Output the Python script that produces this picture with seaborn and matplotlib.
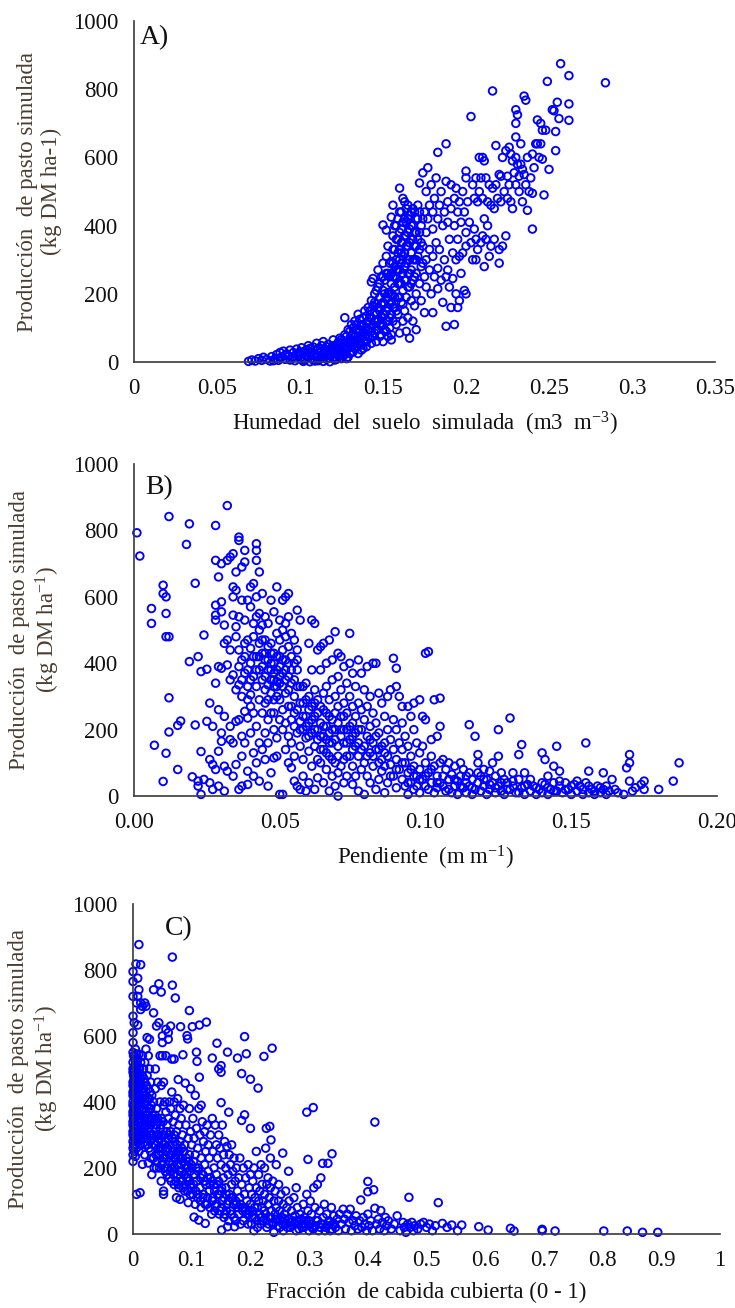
import numpy as np
import pandas as pd
import matplotlib
matplotlib.use("Agg")
import matplotlib.pyplot as plt
import seaborn as sns

# ---------------------------------------------------------------------------
# Panel A: simulated soil moisture (m3 m-3) vs simulated pasture production
# ---------------------------------------------------------------------------
moisture_pts = [
    (0.069, 2), (0.071, 6), (0.073, 3), (0.075, 10), (0.077, 5), (0.078, 14), (0.080, 8), (0.082, 3),
    (0.083, 16), (0.085, 10), (0.086, 22), (0.087, 5), (0.088, 28), (0.089, 15), (0.090, 32), (0.091, 8),
    (0.092, 24), (0.093, 18), (0.094, 35), (0.095, 12), (0.096, 28), (0.097, 4), (0.098, 38), (0.099, 20),
    (0.100, 30), (0.100, 12), (0.101, 42), (0.102, 25), (0.103, 6), (0.104, 36), (0.105, 48), (0.105, 18),
    (0.106, 30), (0.107, 10), (0.108, 44), (0.109, 22), (0.110, 55), (0.110, 35), (0.111, 4), (0.112, 28),
    (0.113, 48), (0.113, 15), (0.114, 60), (0.115, 38), (0.116, 8), (0.116, 26), (0.117, 52), (0.118, 18),
    (0.119, 42), (0.120, 65), (0.120, 30), (0.121, 6), (0.122, 50), (0.122, 22), (0.123, 40), (0.124, 70),
    (0.124, 12), (0.125, 55), (0.125, 32), (0.102, 2), (0.106, 1), (0.109, 3), (0.114, 2), (0.118, 1),
    (0.084, 4), (0.088, 12), (0.091, 20), (0.094, 6), (0.096, 16), (0.099, 26), (0.101, 8), (0.103, 32),
    (0.104, 18), (0.106, 40), (0.107, 26), (0.108, 6), (0.110, 18), (0.111, 40), (0.112, 10), (0.113, 32),
    (0.115, 22), (0.116, 45), (0.117, 12), (0.118, 34), (0.119, 26), (0.120, 48), (0.121, 16), (0.121, 38),
    (0.122, 8), (0.123, 28), (0.123, 58), (0.124, 20), (0.124, 44), (0.125, 10), (0.125, 66),
    (0.126, 45), (0.126, 20), (0.127, 80), (0.127, 130), (0.128, 60), (0.128, 35), (0.129, 95), (0.129, 15),
    (0.130, 70), (0.130, 50), (0.131, 110), (0.131, 28), (0.132, 85), (0.132, 55), (0.133, 40), (0.133, 120),
    (0.134, 65), (0.134, 95), (0.135, 25), (0.135, 140), (0.136, 75), (0.136, 50), (0.137, 105), (0.137, 35),
    (0.138, 130), (0.138, 88), (0.139, 60), (0.139, 150), (0.140, 115), (0.140, 45), (0.140, 80),
    (0.126, 30), (0.126, 62), (0.127, 48), (0.127, 22), (0.128, 75), (0.128, 10), (0.129, 40), (0.129, 58),
    (0.130, 90), (0.130, 25), (0.131, 64), (0.131, 45), (0.132, 100), (0.132, 30), (0.133, 75), (0.133, 55),
    (0.134, 110), (0.134, 45), (0.135, 85), (0.135, 60), (0.136, 125), (0.136, 95), (0.137, 70), (0.137, 50),
    (0.138, 110), (0.138, 40), (0.139, 95), (0.139, 75), (0.140, 135), (0.140, 60), (0.140, 100),
    (0.141, 95), (0.141, 160), (0.142, 70), (0.142, 130), (0.143, 235), (0.143, 180), (0.143, 55), (0.144, 110),
    (0.144, 245), (0.145, 145), (0.145, 85), (0.145, 200), (0.146, 120), (0.146, 60), (0.146, 170), (0.147, 95),
    (0.147, 220), (0.147, 270), (0.148, 150), (0.148, 75), (0.148, 190), (0.149, 130), (0.149, 250), (0.149, 105),
    (0.150, 175), (0.150, 60), (0.150, 210), (0.150, 290), (0.151, 140), (0.151, 95), (0.151, 240), (0.152, 185),
    (0.152, 120), (0.152, 310), (0.153, 160), (0.153, 75), (0.153, 260), (0.153, 340), (0.154, 205), (0.154, 130),
    (0.154, 100), (0.155, 230), (0.155, 175), (0.155, 295), (0.155, 80), (0.155, 65), (0.150, 402), (0.152, 387),
    (0.156, 460), (0.155, 425),
    (0.141, 120), (0.141, 75), (0.142, 150), (0.142, 100), (0.143, 130), (0.143, 90), (0.144, 165), (0.144, 75),
    (0.145, 120), (0.145, 175), (0.146, 140), (0.146, 95), (0.146, 210), (0.147, 120), (0.147, 160), (0.148, 110),
    (0.148, 230), (0.149, 170), (0.149, 80), (0.150, 140), (0.150, 250), (0.150, 110), (0.151, 200), (0.151, 170),
    (0.152, 150), (0.152, 260), (0.152, 90), (0.153, 200), (0.153, 120), (0.154, 250), (0.154, 170), (0.154, 290),
    (0.155, 140), (0.155, 260), (0.155, 200),
    (0.156, 120), (0.156, 250), (0.156, 330), (0.156, 195), (0.157, 160), (0.157, 280), (0.157, 400), (0.157, 220),
    (0.158, 110), (0.158, 300), (0.158, 360), (0.158, 245), (0.159, 190), (0.159, 420), (0.159, 270), (0.159, 140),
    (0.160, 330), (0.160, 230), (0.160, 510), (0.160, 380), (0.160, 85), (0.161, 290), (0.161, 175), (0.161, 440),
    (0.161, 350), (0.162, 260), (0.162, 120), (0.162, 480), (0.162, 310), (0.162, 210), (0.163, 370), (0.163, 150),
    (0.163, 470), (0.163, 280), (0.164, 340), (0.164, 240), (0.164, 410), (0.164, 90), (0.164, 190), (0.165, 300),
    (0.165, 460), (0.165, 380), (0.165, 260), (0.165, 130), (0.166, 350), (0.166, 220), (0.166, 430), (0.166, 70),
    (0.167, 320), (0.167, 400), (0.167, 180), (0.167, 270), (0.168, 450), (0.168, 360), (0.168, 240), (0.168, 120),
    (0.169, 380), (0.169, 300), (0.169, 165), (0.169, 440), (0.170, 340), (0.170, 260), (0.170, 420), (0.170, 200),
    (0.170, 95),
    (0.156, 290), (0.156, 160), (0.156, 370), (0.157, 250), (0.157, 190), (0.157, 330), (0.158, 270), (0.158, 150),
    (0.158, 400), (0.159, 320), (0.159, 230), (0.159, 360), (0.160, 270), (0.160, 190), (0.160, 440), (0.160, 300),
    (0.161, 390), (0.161, 230), (0.161, 320), (0.162, 350), (0.162, 410), (0.162, 170), (0.163, 320), (0.163, 240),
    (0.163, 420), (0.164, 290), (0.164, 370), (0.164, 450), (0.165, 340), (0.165, 420), (0.165, 220), (0.166, 390),
    (0.166, 300), (0.166, 260), (0.167, 360), (0.167, 440), (0.167, 230), (0.168, 400), (0.168, 300), (0.169, 340),
    (0.169, 250), (0.170, 380), (0.170, 300), (0.171, 420), (0.171, 360), (0.172, 330), (0.172, 440), (0.173, 350),
    (0.174, 420), (0.174, 290),
    (0.171, 460), (0.171, 310), (0.172, 230), (0.172, 380), (0.172, 525), (0.173, 280), (0.173, 400), (0.173, 180),
    (0.174, 555), (0.174, 340), (0.175, 440), (0.175, 250), (0.175, 145), (0.176, 380), (0.176, 300), (0.176, 500),
    (0.176, 220), (0.177, 570), (0.177, 420), (0.178, 330), (0.178, 270), (0.178, 460), (0.179, 520), (0.179, 200),
    (0.180, 390), (0.180, 310), (0.180, 440), (0.180, 145), (0.181, 250), (0.181, 480), (0.182, 350), (0.182, 540),
    (0.183, 420), (0.183, 275), (0.183, 615), (0.183, 215), (0.184, 460), (0.184, 330), (0.185, 500), (0.185, 240),
    (0.186, 400), (0.186, 175), (0.187, 440), (0.187, 300), (0.188, 640), (0.188, 530), (0.188, 105), (0.188, 250),
    (0.189, 470), (0.189, 410), (0.189, 270), (0.190, 360), (0.190, 220), (0.191, 520), (0.191, 450), (0.191, 160),
    (0.192, 320), (0.192, 245), (0.193, 400), (0.193, 480), (0.193, 110), (0.194, 300), (0.194, 510), (0.194, 200),
    (0.195, 440), (0.195, 360), (0.195, 160), (0.196, 310), (0.196, 180), (0.196, 470), (0.197, 410), (0.197, 260),
    (0.198, 500), (0.198, 320), (0.199, 440), (0.199, 210), (0.200, 560), (0.200, 540), (0.200, 380), (0.200, 200),
    (0.200, 340),
    (0.201, 470), (0.202, 410), (0.203, 720), (0.203, 350), (0.204, 520), (0.204, 300), (0.205, 480), (0.205, 390),
    (0.206, 540), (0.206, 300), (0.206, 360), (0.207, 470), (0.207, 330), (0.208, 500), (0.208, 600), (0.209, 540),
    (0.209, 350), (0.210, 600), (0.210, 480), (0.210, 370), (0.211, 590), (0.211, 280), (0.211, 420), (0.212, 540),
    (0.212, 360), (0.213, 470), (0.213, 400), (0.214, 520), (0.214, 310), (0.215, 460), (0.215, 340), (0.216, 795),
    (0.216, 510), (0.217, 450), (0.217, 360), (0.218, 635), (0.218, 520), (0.219, 480), (0.220, 550), (0.220, 290),
    (0.220, 330), (0.221, 545), (0.221, 470), (0.222, 600), (0.222, 340), (0.223, 500), (0.224, 370), (0.224, 620),
    (0.225, 480), (0.225, 545), (0.226, 630), (0.226, 520), (0.227, 610), (0.227, 470), (0.228, 590), (0.228, 450),
    (0.229, 555), (0.230, 740), (0.230, 700), (0.230, 660), (0.230, 600), (0.230, 520),
    (0.231, 725), (0.231, 580), (0.232, 545), (0.232, 500), (0.233, 640), (0.233, 580), (0.234, 470), (0.234, 565),
    (0.235, 780), (0.235, 550), (0.236, 768), (0.236, 520), (0.237, 600), (0.237, 445), (0.238, 500), (0.239, 540),
    (0.240, 610), (0.240, 390), (0.240, 495), (0.241, 570), (0.242, 640), (0.243, 710), (0.243, 640), (0.244, 600),
    (0.245, 700), (0.245, 640), (0.246, 680), (0.246, 595), (0.247, 490), (0.248, 680), (0.249, 823), (0.250, 565),
    (0.252, 740), (0.253, 737), (0.254, 620), (0.254, 676), (0.255, 762), (0.256, 714), (0.257, 875), (0.262, 840),
    (0.262, 757), (0.262, 709), (0.284, 819),
]

# ---------------------------------------------------------------------------
# Panel B: slope (m m-1) vs simulated pasture production
# ---------------------------------------------------------------------------
slope_pts = [
    (0.001, 793), (0.002, 723), (0.006, 565), (0.006, 520), (0.007, 153), (0.010, 635), (0.010, 610), (0.010, 44),
    (0.011, 600), (0.011, 129), (0.011, 550), (0.011, 480), (0.012, 480), (0.012, 842), (0.012, 296), (0.012, 193),
    (0.015, 80), (0.015, 213), (0.016, 226), (0.018, 758), (0.019, 820), (0.019, 405), (0.020, 58), (0.021, 641),
    (0.021, 214), (0.022, 45), (0.022, 30), (0.022, 420), (0.023, 375), (0.023, 134), (0.023, 5), (0.024, 485),
    (0.024, 50), (0.025, 382), (0.025, 225), (0.026, 280), (0.026, 110), (0.026, 40), (0.027, 95), (0.027, 210),
    (0.027, 20), (0.028, 815), (0.028, 710), (0.028, 575), (0.028, 545), (0.028, 530), (0.028, 340), (0.028, 80),
    (0.029, 660), (0.029, 390), (0.029, 260), (0.029, 135), (0.029, 30), (0.030, 700), (0.030, 585), (0.030, 555),
    (0.030, 385), (0.030, 190), (0.030, 165),
    (0.031, 515), (0.031, 460), (0.031, 240), (0.031, 90), (0.031, 15), (0.032, 875), (0.032, 710), (0.032, 470),
    (0.032, 395), (0.032, 75), (0.033, 720), (0.033, 440), (0.033, 350), (0.033, 170), (0.033, 210), (0.034, 730),
    (0.034, 630), (0.034, 600), (0.034, 545), (0.034, 365), (0.034, 160), (0.034, 60), (0.035, 675), (0.035, 620),
    (0.035, 510), (0.035, 480), (0.035, 320), (0.035, 225), (0.035, 95), (0.036, 770), (0.036, 780), (0.036, 540),
    (0.036, 440), (0.036, 335), (0.036, 230), (0.036, 20), (0.037, 690), (0.037, 590), (0.037, 410), (0.037, 300),
    (0.037, 180), (0.037, 120), (0.037, 30), (0.038, 740), (0.038, 705), (0.038, 530), (0.038, 460), (0.038, 370),
    (0.038, 255), (0.038, 160), (0.039, 590), (0.039, 470), (0.039, 330), (0.039, 290), (0.039, 235), (0.039, 75),
    (0.039, 35), (0.040, 630), (0.040, 570), (0.040, 445), (0.040, 400), (0.040, 305), (0.040, 270), (0.040, 190),
    (0.041, 640), (0.041, 520), (0.041, 480), (0.041, 360), (0.041, 250), (0.041, 130), (0.041, 60), (0.042, 760),
    (0.042, 740), (0.042, 710), (0.042, 600), (0.042, 540), (0.042, 420), (0.042, 330), (0.042, 210), (0.042, 100),
    (0.043, 675), (0.043, 550), (0.043, 500), (0.043, 460), (0.043, 380), (0.043, 290), (0.043, 160), (0.043, 45),
    (0.044, 610), (0.044, 515), (0.044, 430), (0.044, 350), (0.044, 250), (0.044, 140), (0.045, 540), (0.045, 470),
    (0.045, 410), (0.045, 320), (0.045, 280), (0.045, 190), (0.045, 110),
    (0.046, 520), (0.046, 450), (0.046, 380), (0.046, 335), (0.046, 230), (0.046, 160), (0.046, 30), (0.047, 590),
    (0.047, 460), (0.047, 400), (0.047, 350), (0.047, 310), (0.047, 250), (0.047, 70), (0.048, 555), (0.048, 430),
    (0.048, 370), (0.048, 330), (0.048, 290), (0.048, 200), (0.048, 115), (0.049, 630), (0.049, 490), (0.049, 420),
    (0.049, 345), (0.049, 300), (0.049, 175), (0.049, 120), (0.050, 530), (0.050, 470), (0.050, 390), (0.050, 340),
    (0.050, 230), (0.050, 5), (0.051, 590), (0.051, 500), (0.051, 440), (0.051, 370), (0.051, 260), (0.051, 200),
    (0.051, 5), (0.052, 600), (0.052, 520), (0.052, 480), (0.052, 410), (0.052, 310), (0.052, 220), (0.052, 140),
    (0.053, 610), (0.053, 540), (0.053, 450), (0.053, 360), (0.053, 270), (0.053, 180), (0.053, 100), (0.054, 490),
    (0.054, 420), (0.054, 340), (0.054, 230), (0.054, 160), (0.054, 85), (0.055, 470), (0.055, 400), (0.055, 300),
    (0.055, 210), (0.055, 120), (0.055, 45), (0.056, 560), (0.056, 440), (0.056, 380), (0.056, 260), (0.056, 190),
    (0.056, 30), (0.057, 530), (0.057, 330), (0.057, 225), (0.057, 150), (0.057, 20), (0.058, 280), (0.058, 200),
    (0.058, 110), (0.058, 60), (0.059, 340), (0.059, 240), (0.059, 175), (0.059, 15), (0.060, 460), (0.060, 300),
    (0.060, 220), (0.060, 135), (0.060, 40),
    (0.036, 390), (0.037, 350), (0.038, 420), (0.039, 380), (0.040, 350), (0.041, 420), (0.042, 380), (0.043, 420),
    (0.044, 390), (0.044, 470), (0.045, 360), (0.045, 430), (0.046, 410), (0.046, 290), (0.047, 380), (0.047, 430),
    (0.048, 400), (0.048, 350), (0.048, 250), (0.049, 380), (0.049, 330), (0.050, 420), (0.050, 360), (0.050, 290),
    (0.051, 410), (0.051, 330), (0.052, 380), (0.052, 350), (0.053, 400), (0.053, 320), (0.054, 380), (0.054, 270),
    (0.055, 350), (0.055, 250), (0.056, 410), (0.056, 330), (0.057, 280), (0.057, 200), (0.058, 330), (0.058, 240),
    (0.059, 290), (0.059, 210), (0.060, 260), (0.060, 180),
    (0.061, 530), (0.061, 380), (0.061, 270), (0.061, 190), (0.061, 90), (0.062, 520), (0.062, 320), (0.062, 240),
    (0.062, 150), (0.062, 20), (0.063, 440), (0.063, 290), (0.063, 200), (0.063, 110), (0.063, 55), (0.064, 450),
    (0.064, 380), (0.064, 270), (0.064, 180), (0.064, 100), (0.065, 460), (0.065, 310), (0.065, 210), (0.065, 140),
    (0.065, 40), (0.066, 400), (0.066, 330), (0.066, 250), (0.066, 170), (0.066, 80), (0.067, 470), (0.067, 290),
    (0.067, 190), (0.067, 120), (0.067, 15), (0.068, 410), (0.068, 350), (0.068, 230), (0.068, 160), (0.068, 60),
    (0.069, 495), (0.069, 300), (0.069, 200), (0.069, 100), (0.069, 30), (0.070, 430), (0.070, 360), (0.070, 270),
    (0.070, 150), (0.070, 70), (0.070, 0), (0.071, 420), (0.071, 320), (0.071, 240), (0.071, 180), (0.071, 90),
    (0.072, 390), (0.072, 280), (0.072, 200), (0.072, 110), (0.072, 40), (0.073, 340), (0.073, 250), (0.073, 160),
    (0.073, 60), (0.074, 490), (0.074, 400), (0.074, 300), (0.074, 210), (0.074, 120), (0.075, 370), (0.075, 270),
    (0.075, 180), (0.075, 90), (0.075, 35), (0.076, 330), (0.076, 240), (0.076, 150), (0.076, 60), (0.077, 410),
    (0.077, 280), (0.077, 200), (0.077, 120), (0.077, 15), (0.078, 370), (0.078, 260), (0.078, 140), (0.078, 80),
    (0.079, 320), (0.079, 230), (0.079, 100), (0.079, 5), (0.080, 390), (0.080, 270), (0.080, 180), (0.080, 60),
    (0.061, 230), (0.062, 280), (0.062, 200), (0.063, 250), (0.063, 170), (0.064, 220), (0.064, 140), (0.065, 260),
    (0.065, 180), (0.066, 210), (0.066, 130), (0.067, 240), (0.067, 160), (0.068, 200), (0.068, 110), (0.069, 250),
    (0.069, 170), (0.070, 220), (0.070, 120), (0.071, 200), (0.072, 240), (0.072, 160), (0.073, 200), (0.073, 120),
    (0.074, 170), (0.075, 220), (0.075, 140), (0.076, 190), (0.077, 160), (0.078, 200), (0.079, 150), (0.080, 120),
    (0.081, 300), (0.081, 210), (0.081, 130), (0.081, 40), (0.082, 400), (0.082, 250), (0.082, 160), (0.082, 90),
    (0.083, 400), (0.083, 220), (0.083, 140), (0.083, 20), (0.084, 310), (0.084, 190), (0.084, 100), (0.084, 50),
    (0.085, 280), (0.085, 150), (0.085, 75), (0.086, 240), (0.086, 160), (0.086, 90), (0.086, 10), (0.087, 300),
    (0.087, 200), (0.087, 120), (0.087, 40), (0.088, 320), (0.088, 170), (0.088, 95), (0.089, 415), (0.089, 230),
    (0.089, 140), (0.089, 60), (0.090, 385), (0.090, 330), (0.090, 200), (0.090, 110), (0.090, 25), (0.091, 300),
    (0.091, 160), (0.091, 80), (0.092, 270), (0.092, 220), (0.092, 140), (0.092, 50), (0.093, 180), (0.093, 100),
    (0.093, 30), (0.094, 270), (0.094, 150), (0.094, 70), (0.094, 5), (0.095, 240), (0.095, 120), (0.095, 40),
    (0.096, 280), (0.096, 200), (0.096, 90), (0.096, 20), (0.097, 160), (0.097, 60), (0.097, 30), (0.098, 290),
    (0.098, 130), (0.098, 80), (0.098, 10), (0.099, 240), (0.099, 150), (0.099, 50), (0.100, 430), (0.100, 230),
    (0.100, 100), (0.100, 30),
    (0.081, 170), (0.082, 120), (0.083, 180), (0.084, 140), (0.085, 110), (0.086, 130), (0.088, 60), (0.090, 80),
    (0.092, 100), (0.094, 40), (0.095, 80), (0.096, 60), (0.098, 50), (0.100, 60), (0.102, 80), (0.104, 40),
    (0.106, 60), (0.108, 20), (0.110, 50), (0.112, 30), (0.114, 60), (0.116, 25), (0.118, 70), (0.120, 50),
    (0.122, 35), (0.124, 25), (0.126, 40), (0.128, 20), (0.130, 45), (0.132, 10), (0.134, 30), (0.136, 50),
    (0.138, 25), (0.140, 40), (0.142, 25), (0.144, 15), (0.146, 45), (0.148, 20), (0.150, 30), (0.152, 45),
    (0.154, 20), (0.156, 30), (0.158, 15), (0.160, 25), (0.162, 30),
    (0.101, 435), (0.101, 70), (0.101, 20), (0.102, 170), (0.102, 120), (0.102, 40), (0.103, 290), (0.103, 90),
    (0.103, 10), (0.104, 180), (0.104, 60), (0.104, 25), (0.105, 295), (0.105, 210), (0.105, 100), (0.105, 40),
    (0.106, 110), (0.106, 30), (0.107, 80), (0.107, 15), (0.108, 100), (0.108, 50), (0.109, 65), (0.109, 10),
    (0.110, 90), (0.110, 30), (0.111, 45), (0.111, 5), (0.112, 100), (0.112, 60), (0.113, 80), (0.113, 25),
    (0.114, 40), (0.114, 10), (0.115, 215), (0.115, 70), (0.115, 30), (0.116, 50), (0.116, 5), (0.117, 180),
    (0.117, 20), (0.118, 125), (0.118, 100), (0.118, 40), (0.119, 60), (0.119, 15), (0.120, 80), (0.120, 30),
    (0.121, 50), (0.121, 5), (0.122, 75), (0.122, 20), (0.123, 100), (0.123, 40), (0.124, 60), (0.124, 10),
    (0.125, 200), (0.125, 120), (0.125, 30),
    (0.126, 70), (0.126, 15), (0.127, 50), (0.127, 5), (0.128, 40), (0.129, 235), (0.129, 20), (0.130, 70),
    (0.130, 30), (0.131, 10), (0.132, 125), (0.132, 50), (0.133, 155), (0.133, 25), (0.134, 70), (0.134, 5),
    (0.135, 35), (0.136, 15), (0.137, 30), (0.138, 5), (0.139, 20), (0.140, 130), (0.140, 10), (0.141, 110),
    (0.141, 35), (0.142, 60), (0.142, 5), (0.143, 20), (0.144, 90), (0.144, 40), (0.145, 150), (0.145, 15),
    (0.146, 75), (0.146, 30), (0.147, 10), (0.148, 40), (0.149, 20), (0.150, 5), (0.151, 35), (0.152, 15),
    (0.153, 30), (0.154, 5), (0.155, 160), (0.155, 40), (0.156, 75), (0.156, 10), (0.157, 20), (0.158, 5),
    (0.159, 30), (0.160, 10), (0.161, 70), (0.161, 20), (0.162, 5), (0.163, 15), (0.164, 50), (0.165, 20),
    (0.166, 10), (0.168, 5), (0.169, 85), (0.170, 125), (0.170, 100), (0.170, 45), (0.171, 15), (0.172, 25),
    (0.174, 35), (0.175, 45), (0.175, 20), (0.180, 20), (0.185, 45), (0.187, 100),
]

# ---------------------------------------------------------------------------
# Panel C: canopy cover fraction (0-1) vs simulated pasture production
# ---------------------------------------------------------------------------
cover_pts = [
    (0.000, 795), (0.000, 765), (0.000, 720), (0.000, 660), (0.000, 610), (0.000, 580), (0.000, 550), (0.000, 520),
    (0.000, 490), (0.000, 460), (0.000, 430), (0.000, 400), (0.000, 370), (0.000, 340), (0.000, 310), (0.000, 280),
    (0.000, 240), (0.000, 220),
    (0.000, 500), (0.000, 450), (0.000, 420), (0.000, 390), (0.000, 360), (0.000, 330), (0.000, 300), (0.000, 260),
    (0.001, 540), (0.001, 480), (0.001, 430), (0.001, 390), (0.001, 350), (0.001, 310), (0.001, 270),
    (0.002, 640), (0.002, 540), (0.002, 500), (0.002, 470), (0.002, 445), (0.002, 415), (0.002, 380), (0.002, 350),
    (0.002, 320), (0.002, 290), (0.002, 250),
    (0.003, 510), (0.003, 460), (0.003, 420), (0.003, 370), (0.003, 330), (0.003, 290),
    (0.004, 560), (0.004, 525), (0.004, 480), (0.004, 440), (0.004, 400), (0.004, 360), (0.004, 330), (0.004, 300),
    (0.004, 270), (0.004, 235),
    (0.005, 490), (0.005, 450), (0.005, 410), (0.005, 370), (0.005, 320), (0.005, 280),
    (0.005, 818), (0.006, 700), (0.006, 545), (0.006, 505), (0.006, 460), (0.006, 420), (0.006, 385), (0.006, 345),
    (0.006, 305), (0.006, 260), (0.006, 120),
    (0.007, 510), (0.007, 470), (0.007, 410), (0.007, 370), (0.007, 330), (0.007, 290),
    (0.008, 775), (0.008, 720), (0.008, 633), (0.008, 530), (0.008, 490), (0.008, 440), (0.008, 400), (0.008, 360),
    (0.008, 320), (0.008, 280),
    (0.009, 480), (0.009, 440), (0.009, 390), (0.009, 350), (0.009, 310),
    (0.010, 877), (0.010, 740), (0.010, 545), (0.010, 505), (0.010, 465), (0.010, 425), (0.010, 380), (0.010, 340),
    (0.010, 300), (0.010, 250),
    (0.011, 500), (0.011, 450), (0.011, 400), (0.011, 350), (0.011, 290),
    (0.012, 125), (0.013, 816), (0.013, 700), (0.013, 680), (0.013, 520), (0.013, 470), (0.013, 410), (0.013, 360),
    (0.013, 320), (0.013, 270),
    (0.014, 450), (0.014, 400), (0.014, 350), (0.014, 300),
    (0.016, 690), (0.016, 540), (0.016, 480), (0.016, 420), (0.016, 380), (0.016, 330), (0.016, 211), (0.018, 500),
    (0.018, 440), (0.018, 395), (0.018, 290), (0.020, 700), (0.020, 520), (0.020, 460), (0.020, 410), (0.020, 350),
    (0.020, 240),
    (0.017, 430), (0.017, 360), (0.017, 310), (0.019, 470), (0.019, 380), (0.019, 320), (0.021, 420), (0.021, 330),
    (0.021, 270), (0.023, 450), (0.023, 360), (0.023, 300), (0.025, 410), (0.025, 340), (0.025, 290), (0.027, 380),
    (0.027, 320), (0.027, 260), (0.029, 430), (0.029, 350), (0.029, 280), (0.031, 390), (0.031, 300), (0.031, 230),
    (0.033, 360), (0.033, 290), (0.036, 350), (0.036, 270), (0.036, 200), (0.039, 320), (0.039, 240), (0.041, 300),
    (0.041, 220), (0.043, 340), (0.043, 260), (0.045, 290), (0.045, 200), (0.047, 330), (0.047, 250), (0.049, 280),
    (0.049, 210), (0.051, 340), (0.051, 260), (0.053, 300), (0.053, 230), (0.055, 280), (0.055, 190), (0.057, 310),
    (0.057, 230), (0.059, 260), (0.059, 200), (0.061, 300), (0.061, 220), (0.063, 270), (0.063, 190), (0.065, 240),
    (0.065, 160), (0.067, 290), (0.067, 210), (0.069, 250), (0.069, 180), (0.071, 280), (0.071, 200), (0.073, 240),
    (0.073, 160), (0.075, 270), (0.075, 210), (0.077, 230), (0.077, 150), (0.079, 250), (0.079, 190), (0.081, 230),
    (0.081, 160), (0.083, 260), (0.083, 190), (0.085, 220), (0.085, 140), (0.087, 250), (0.087, 180), (0.089, 210),
    (0.089, 150), (0.091, 230), (0.091, 170), (0.093, 200), (0.093, 130), (0.095, 220), (0.095, 160), (0.097, 190),
    (0.097, 120), (0.099, 210), (0.099, 140),
    (0.022, 690), (0.022, 560), (0.022, 430), (0.022, 370), (0.022, 300), (0.024, 595), (0.024, 480), (0.024, 390),
    (0.024, 330), (0.024, 270), (0.026, 540), (0.026, 440), (0.026, 350), (0.026, 215), (0.028, 590), (0.028, 500),
    (0.028, 410), (0.028, 300), (0.030, 460), (0.030, 380), (0.030, 330), (0.030, 250), (0.032, 420), (0.032, 350),
    (0.032, 180), (0.035, 740), (0.035, 670), (0.035, 400), (0.035, 300), (0.035, 230), (0.038, 500), (0.038, 440),
    (0.038, 360), (0.038, 270), (0.040, 630), (0.040, 380), (0.040, 330), (0.040, 200), (0.042, 460), (0.042, 350),
    (0.042, 280), (0.044, 758), (0.044, 640), (0.044, 300), (0.044, 240), (0.046, 540), (0.046, 400), (0.046, 320),
    (0.046, 260), (0.048, 733), (0.048, 450), (0.048, 350), (0.048, 160), (0.050, 600), (0.050, 580), (0.050, 540),
    (0.050, 300), (0.050, 220), (0.052, 460), (0.052, 390), (0.052, 130), (0.052, 120), (0.054, 400), (0.054, 270),
    (0.054, 200), (0.056, 620), (0.056, 540), (0.056, 370), (0.056, 250), (0.058, 330), (0.058, 180), (0.060, 590),
    (0.060, 610), (0.060, 350), (0.060, 290), (0.062, 400), (0.062, 240), (0.062, 170), (0.064, 630), (0.064, 380),
    (0.064, 310), (0.066, 530), (0.066, 430), (0.066, 200), (0.067, 839), (0.067, 754), (0.068, 340), (0.068, 270),
    (0.070, 530), (0.070, 400), (0.070, 300), (0.070, 150), (0.072, 715), (0.072, 360), (0.072, 230), (0.074, 310),
    (0.074, 110), (0.076, 410), (0.076, 250), (0.076, 180), (0.077, 468), (0.078, 330), (0.078, 140), (0.080, 380),
    (0.080, 280), (0.080, 105), (0.081, 628), (0.082, 350), (0.082, 210), (0.084, 300), (0.084, 160), (0.085, 543),
    (0.086, 390), (0.086, 250), (0.088, 270), (0.088, 130), (0.089, 457), (0.090, 330), (0.090, 200), (0.092, 601),
    (0.093, 591), (0.094, 290), (0.094, 170), (0.094, 95), (0.096, 677), (0.096, 380), (0.096, 240), (0.098, 440),
    (0.098, 310), (0.098, 150),
    (0.103, 220), (0.103, 150), (0.107, 200), (0.107, 130), (0.111, 190), (0.111, 120), (0.115, 170), (0.115, 100),
    (0.119, 180), (0.119, 110), (0.123, 160), (0.123, 90), (0.127, 170), (0.127, 110), (0.131, 150), (0.131, 80),
    (0.135, 160), (0.135, 100), (0.139, 130), (0.139, 70), (0.143, 150), (0.143, 90), (0.147, 120), (0.147, 60),
    (0.151, 140), (0.151, 80), (0.155, 110), (0.155, 50), (0.159, 120), (0.159, 70), (0.163, 100), (0.163, 40),
    (0.167, 110), (0.167, 60), (0.171, 90), (0.175, 100), (0.175, 40), (0.179, 80), (0.183, 90), (0.183, 30),
    (0.187, 70), (0.191, 80), (0.195, 60), (0.199, 70), (0.203, 50), (0.207, 80), (0.211, 40), (0.215, 60),
    (0.219, 50), (0.223, 70), (0.227, 40), (0.231, 30), (0.235, 50), (0.239, 35), (0.243, 45), (0.247, 25),
    (0.251, 40), (0.255, 30), (0.259, 45), (0.263, 20), (0.267, 35), (0.271, 25), (0.275, 30), (0.279, 40),
    (0.283, 15), (0.287, 30), (0.291, 20), (0.295, 40), (0.299, 25), (0.303, 30), (0.307, 15), (0.311, 25),
    (0.315, 40), (0.319, 20), (0.323, 30), (0.327, 10), (0.331, 25), (0.335, 35), (0.339, 15), (0.343, 30),
    (0.100, 270), (0.100, 200), (0.101, 628), (0.102, 350), (0.102, 120), (0.104, 51), (0.104, 290), (0.104, 180),
    (0.106, 420), (0.106, 240), (0.106, 90), (0.108, 551), (0.108, 320), (0.108, 160), (0.109, 523), (0.110, 260),
    (0.110, 110), (0.112, 42), (0.112, 380), (0.112, 200), (0.113, 475), (0.113, 633), (0.114, 300), (0.114, 140),
    (0.116, 390), (0.116, 230), (0.116, 80), (0.118, 340), (0.118, 180), (0.120, 280), (0.120, 120), (0.122, 310),
    (0.122, 210), (0.123, 32), (0.124, 250), (0.124, 150), (0.125, 642), (0.126, 330), (0.126, 90), (0.128, 270),
    (0.128, 190), (0.130, 230), (0.130, 130), (0.132, 300), (0.132, 170), (0.134, 60), (0.135, 533), (0.135, 350),
    (0.136, 250), (0.136, 110), (0.138, 200), (0.138, 150), (0.140, 330), (0.140, 85), (0.142, 270), (0.142, 180),
    (0.143, 578), (0.144, 230), (0.144, 120), (0.146, 500), (0.146, 300), (0.146, 160), (0.148, 260), (0.148, 70),
    (0.150, 510), (0.150, 490), (0.150, 398), (0.150, 210), (0.150, 130), (0.151, 12), (0.152, 330), (0.152, 100),
    (0.154, 240), (0.154, 170), (0.156, 280), (0.156, 60), (0.158, 200), (0.158, 140), (0.160, 265), (0.160, 90),
    (0.161, 551), (0.161, 22), (0.162, 180), (0.163, 369), (0.164, 240), (0.164, 120), (0.166, 210), (0.166, 70),
    (0.168, 150), (0.168, 270), (0.170, 190), (0.170, 110), (0.172, 230), (0.172, 50), (0.173, 22), (0.174, 160),
    (0.176, 200), (0.176, 90), (0.178, 533), (0.178, 130), (0.180, 170), (0.180, 60), (0.182, 230), (0.182, 110),
    (0.185, 486), (0.185, 344), (0.185, 150), (0.186, 80), (0.188, 200), (0.188, 40), (0.190, 598), (0.190, 361),
    (0.190, 120), (0.192, 170), (0.192, 70), (0.193, 546), (0.194, 100), (0.196, 210), (0.196, 30), (0.198, 140),
    (0.198, 60), (0.200, 469), (0.200, 320), (0.200, 180), (0.200, 90),
    (0.202, 120), (0.202, 30), (0.204, 160), (0.204, 70), (0.206, 200), (0.206, 10), (0.208, 110), (0.208, 50),
    (0.210, 250), (0.210, 140), (0.212, 80), (0.212, 20), (0.213, 442), (0.214, 180), (0.214, 100), (0.216, 60),
    (0.216, 130), (0.218, 210), (0.218, 30), (0.220, 150), (0.220, 80), (0.222, 100), (0.222, 40), (0.223, 538),
    (0.224, 200), (0.224, 120), (0.226, 260), (0.226, 60), (0.227, 320), (0.228, 150), (0.228, 20), (0.230, 90),
    (0.230, 170), (0.232, 110), (0.232, 50), (0.233, 326), (0.234, 230), (0.234, 140), (0.235, 285), (0.236, 70),
    (0.237, 563), (0.238, 160), (0.238, 30), (0.240, 100), (0.240, 5), (0.242, 130), (0.242, 60), (0.244, 210),
    (0.244, 80), (0.246, 40), (0.248, 150), (0.248, 100), (0.250, 70), (0.250, 20), (0.252, 120), (0.254, 50),
    (0.255, 245), (0.256, 90), (0.256, 10), (0.258, 60), (0.260, 130), (0.260, 30), (0.262, 80), (0.264, 45),
    (0.265, 190), (0.266, 100), (0.268, 20), (0.270, 70), (0.272, 40), (0.274, 110), (0.276, 55), (0.278, 140),
    (0.278, 10), (0.280, 80), (0.282, 30), (0.284, 60), (0.286, 45), (0.288, 20), (0.290, 90), (0.292, 50),
    (0.294, 30), (0.296, 369), (0.296, 120), (0.298, 226), (0.298, 70), (0.300, 40), (0.300, 10),
    (0.302, 100), (0.304, 60), (0.306, 20), (0.307, 383), (0.308, 140), (0.310, 80), (0.312, 40), (0.314, 150),
    (0.316, 10), (0.318, 70), (0.320, 170), (0.320, 30), (0.323, 214), (0.324, 50), (0.326, 90), (0.328, 20),
    (0.330, 60), (0.332, 214), (0.334, 40), (0.336, 10), (0.338, 80), (0.339, 243), (0.340, 30), (0.342, 55),
    (0.345, 20), (0.348, 45), (0.350, 10), (0.352, 60), (0.355, 30), (0.358, 75), (0.360, 45), (0.362, 15),
    (0.365, 60), (0.368, 35), (0.370, 75), (0.372, 10), (0.375, 40), (0.378, 25), (0.380, 55), (0.383, 15),
    (0.386, 40), (0.388, 103), (0.390, 20), (0.392, 50), (0.395, 30), (0.398, 10), (0.400, 159), (0.400, 128),
    (0.400, 60), (0.402, 25), (0.405, 40), (0.408, 10), (0.410, 134), (0.412, 339), (0.412, 78), (0.415, 30),
    (0.418, 45), (0.420, 15), (0.422, 71), (0.425, 35), (0.428, 10), (0.430, 50), (0.432, 25), (0.435, 40),
    (0.440, 15), (0.445, 30), (0.450, 55),
    (0.455, 10), (0.460, 35), (0.462, 20), (0.465, 5), (0.468, 30), (0.470, 111), (0.472, 20), (0.475, 35),
    (0.478, 10), (0.480, 25), (0.485, 15), (0.490, 30), (0.495, 35), (0.500, 20), (0.505, 30), (0.510, 10),
    (0.515, 25), (0.520, 95), (0.527, 32), (0.535, 20), (0.543, 27), (0.553, 10), (0.560, 27), (0.589, 22),
    (0.605, 12), (0.643, 17), (0.649, 9), (0.697, 14), (0.697, 10), (0.719, 9), (0.802, 9), (0.842, 9),
    (0.868, 5), (0.894, 5),
]

y_ticks = [0, 200, 400, 600, 800, 1000]
a_xticks = [0, 0.05, 0.10, 0.15, 0.20, 0.25, 0.30, 0.35]
a_xticklabels = ["0", "0.05", "0.1", "0.15", "0.2", "0.25", "0.3", "0.35"]
b_xticks = [0.00, 0.05, 0.10, 0.15, 0.20]
b_xticklabels = ["0.00", "0.05", "0.10", "0.15", "0.20"]
c_xticks = [0, 0.1, 0.2, 0.3, 0.4, 0.5, 0.6, 0.7, 0.8, 0.9, 1.0]
c_xticklabels = ["0", "0.1", "0.2", "0.3", "0.4", "0.5", "0.6", "0.7", "0.8", "0.9", "1"]

panel_letters = ["A)", "B)", "C)"]
x_titles = [
    "Humedad  del  suelo  simulada  (m3  m$^{\\mathregular{-3}}$)",
    "Pendiente  (m m$^{\\mathregular{-1}}$)",
    "Fracción  de cabida cubierta (0 - 1)",
]
y_titles = [
    "Producción  de pasto simulada\n(kg DM ha-1)",
    "Producción  de pasto simulada\n(kg DM ha$^{\\mathregular{-1}}$)",
    "Producción  de pasto simulada\n(kg DM ha$^{\\mathregular{-1}}$)",
]

sns.set_style("white")
plt.rcParams["font.family"] = ["Liberation Serif", "DejaVu Serif"]
plt.rcParams["mathtext.fontset"] = "custom"
plt.rcParams["mathtext.rm"] = "Liberation Serif"
plt.rcParams["mathtext.it"] = "Liberation Serif:italic"
plt.rcParams["mathtext.bf"] = "Liberation Serif:bold"

MARK = "#0000ff"
AXC = "#3a3a3a"
YLAB = "#4a3c30"
FS = 16.5

fig = plt.figure(figsize=(7.35, 13.08), dpi=100)
axes_rects = [
    [0.1823, 0.7232, 0.7905, 0.2607],
    [0.1823, 0.3914, 0.7932, 0.2538],
    [0.1810, 0.0566, 0.7986, 0.2523],
]
datasets = [moisture_pts, slope_pts, cover_pts]
xlims = [(0, 0.35), (0, 0.20), (0, 1.0)]
xticks = [a_xticks, b_xticks, c_xticks]
xticklabels = [a_xticklabels, b_xticklabels, c_xticklabels]
letter_pos = [(0.01, 0.95), (0.02, 0.93), (0.055, 0.925)]

for i in range(3):
    ax = fig.add_axes(axes_rects[i])
    df = pd.DataFrame(datasets[i], columns=["x", "y"])
    sns.scatterplot(data=df, x="x", y="y", ax=ax, s=30, marker="o",
                    facecolor="none", edgecolor=MARK, linewidth=1.35, legend=False)
    pts = ax.collections[-1]
    pts.set_facecolor("none")
    pts.set_edgecolor(MARK)
    pts.set_linewidth(1.35)
    pts.set_clip_on(False)

    ax.set_xlim(*xlims[i])
    ax.set_ylim(0, 1000)
    ax.set_xticks(xticks[i])
    ax.set_xticklabels(xticklabels[i])
    ax.set_yticks(y_ticks)
    ax.set_yticklabels([str(v) for v in y_ticks])

    for side in ("top", "right"):
        ax.spines[side].set_visible(False)
    for side in ("left", "bottom"):
        ax.spines[side].set_color(AXC)
        ax.spines[side].set_linewidth(1.2)
    ax.tick_params(axis="both", direction="out", length=5.5, width=1.2, color=AXC,
                   labelsize=FS, labelcolor="#111111", pad=6)

    ax.set_xlabel(x_titles[i], fontsize=FS, color="#111111", labelpad=8)
    ax.set_ylabel(y_titles[i], fontsize=FS, color=YLAB, labelpad=8, linespacing=1.15)
    ax.text(letter_pos[i][0], letter_pos[i][1], panel_letters[i], transform=ax.transAxes,
            fontsize=20, color="#111111", ha="left", va="center")

fig.savefig("out.png", dpi=100)
